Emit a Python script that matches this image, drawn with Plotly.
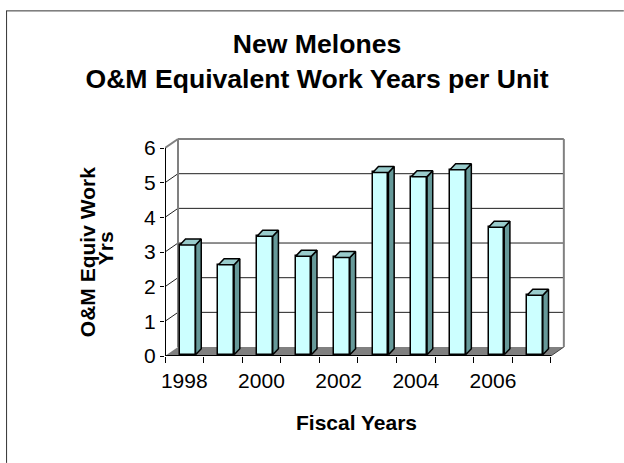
import plotly.graph_objects as go

# ---------------- data ----------------
years = [1998, 1999, 2000, 2001, 2002, 2003, 2004, 2005, 2006, 2007]
values = [3.17, 2.60, 3.42, 2.84, 2.81, 5.26, 5.14, 5.34, 3.68, 1.72]
y_ticks = [0, 1, 2, 3, 4, 5, 6]
x_label_years = [1998, 2000, 2002, 2004, 2006]
title_lines = ["New Melones", "O&M Equivalent Work Years per Unit"]
y_title_lines = ["O&M Equiv Work", "Yrs"]
x_title = "Fiscal Years"

# ---------------- geometry / style ----------------
W, H = 624, 463
FONT = "Arial, Liberation Sans, sans-serif"
PX_X = 38.6   # pixels per category
PX_Y = 34.7   # pixels per value unit
ML, MB = 165, 107
DX, DY = 13 / PX_X, 9 / PX_Y          # wall depth (oblique offset)
BDX, BDY = 5.7 / PX_X, 6 / PX_Y       # bar depth
XS, YB, BW = 3.4 / PX_X, 1.2 / PX_Y, 15.7 / PX_X

x0 = years[0] - 0.5
x1 = years[-1] + 0.5
ymax = max(y_ticks)
xr_max = x1 + DX + 0.03
yr_max = ymax + DY + 0.03
plot_w = (xr_max - x0) * PX_X
plot_h = yr_max * PX_Y
MR = W - ML - plot_w
MT = H - MB - plot_h

FRONT = "#CCFFFF"
SIDE = "#669999"
TOP = "#99CCCC"
WALL_EDGE = "#808080"
FLOOR = "#808080"


def paper_x(px):
    return (px - ML) / plot_w


def paper_y(py):
    return (H - MB - py) / plot_h


fig = go.Figure()

# front faces of the columns
bar_x = [y + XS for y in years]
fig.add_trace(go.Bar(
    x=bar_x, y=values, base=YB, width=BW,
    marker=dict(color=FRONT, line=dict(color="black", width=1.5)),
    hoverinfo="skip", showlegend=False,
))

# side and top faces
side_x, side_y, top_x, top_y = [], [], [], []
for xc, v in zip(bar_x, values):
    xl, xr = xc - BW / 2, xc + BW / 2
    t = YB + v
    side_x += [xr, xr, xr + BDX, xr + BDX, xr, None]
    side_y += [YB, t, t + BDY, YB + BDY, YB, None]
    top_x += [xl, xr, xr + BDX, xl + BDX, xl, None]
    top_y += [t, t, t + BDY, t + BDY, t, None]

fig.add_trace(go.Scatter(x=side_x, y=side_y, mode="lines", fill="toself",
                         fillcolor=SIDE, line=dict(color="black", width=1.5),
                         hoverinfo="skip", showlegend=False))
fig.add_trace(go.Scatter(x=top_x, y=top_y, mode="lines", fill="toself",
                         fillcolor=TOP, line=dict(color="black", width=1.5),
                         hoverinfo="skip", showlegend=False))

shapes = []


def line(xa, ya, xb, yb, color, width):
    shapes.append(dict(type="line", xref="x", yref="y", x0=xa, y0=ya, x1=xb, y1=yb,
                       line=dict(color=color, width=width), layer="below"))


# back wall gridlines + side wall gridlines
for k in y_ticks[1:-1]:
    line(x0 + DX, k + DY, x1 + DX, k + DY, "#202020", 1)
    line(x0, k, x0 + DX, k + DY, "#202020", 1)

# floor
shapes.append(dict(type="path", xref="x", yref="y",
                   path=f"M {x0},0 L {x1},0 L {x1 + DX},{DY} L {x0 + DX},{DY} Z",
                   fillcolor=FLOOR, line=dict(width=0), layer="below"))
line(x1, 0, x1 + DX, DY, "#404040", 1)

# wall edges
line(x0 + DX, DY, x0 + DX, ymax + DY, WALL_EDGE, 2)
line(x0 + DX, ymax + DY, x1 + DX, ymax + DY, WALL_EDGE, 2)
line(x1 + DX, DY, x1 + DX, ymax + DY, WALL_EDGE, 2)
line(x0, ymax, x0 + DX, ymax + DY, WALL_EDGE, 2)

# front axis lines
line(x0, 0, x0, ymax, "black", 2)
line(x0, 0, x1, 0, "black", 2)

# outer chart border
shapes.append(dict(type="line", xref="paper", yref="paper",
                   x0=paper_x(6.5), y0=paper_y(10.5), x1=paper_x(6.5), y1=paper_y(463),
                   line=dict(color="#333333", width=1)))
shapes.append(dict(type="line", xref="paper", yref="paper",
                   x0=paper_x(6), y0=paper_y(10.5), x1=paper_x(624), y1=paper_y(10.5),
                   line=dict(color="#333333", width=1)))

annotations = [
    dict(text=y_title_lines[0], xref="paper", yref="paper",
         x=paper_x(87), y=paper_y(252), textangle=-90, showarrow=False,
         xanchor="center", yanchor="middle",
         font=dict(family=FONT, size=21, color="black", weight="bold")),
    dict(text=y_title_lines[1], xref="paper", yref="paper",
         x=paper_x(105), y=paper_y(248), textangle=-90, showarrow=False,
         xanchor="center", yanchor="middle",
         font=dict(family=FONT, size=21, color="black", weight="bold")),
    dict(text=x_title, xref="paper", yref="paper",
         x=paper_x(357), y=paper_y(423), showarrow=False,
         xanchor="center", yanchor="middle",
         font=dict(family=FONT, size=21, color="black", weight="bold")),
]

fig.update_layout(
    width=W, height=H,
    margin=dict(l=ML, r=MR, t=MT, b=MB, pad=0),
    paper_bgcolor="white", plot_bgcolor="white",
    showlegend=False,
    title=dict(text="<br>".join(title_lines), x=317 / W, xref="container", xanchor="center",
               y=1 - 53 / H, yref="container", yanchor="middle",
               font=dict(family=FONT, size=26.6, color="black", weight="bold")),
    xaxis=dict(range=[x0, xr_max], tickmode="array", tickvals=x_label_years,
               ticktext=[str(y) for y in x_label_years], ticks="",
               showgrid=False, zeroline=False, showline=False,
               tickfont=dict(family=FONT, size=21, color="black"),
               ticklabelstandoff=10,
               minor=dict(ticks="outside", tickmode="linear", tick0=x0, dtick=1,
                          ticklen=6, tickcolor="black", tickwidth=1, showgrid=False)),
    yaxis=dict(range=[0, yr_max], tickmode="array", tickvals=y_ticks,
               ticks="outside", ticklen=4, tickcolor="black", tickwidth=1,
               showgrid=False, zeroline=False, showline=False,
               tickfont=dict(family=FONT, size=21, color="black"),
               ticklabelstandoff=0),
    shapes=shapes,
    annotations=annotations,
    bargap=0,
)

fig.write_html("out.html", config={"displayModeBar": False},
               post_script="document.body.style.margin='0px';")
